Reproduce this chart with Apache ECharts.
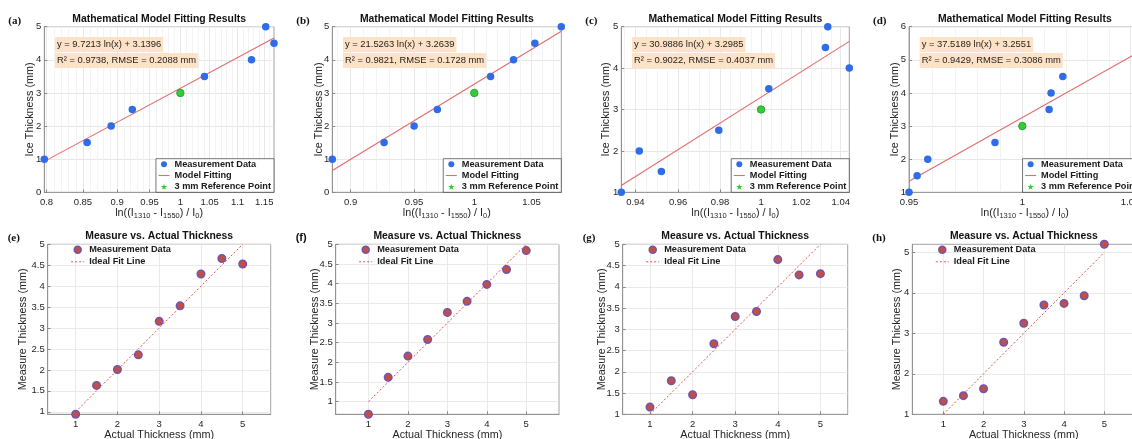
<!DOCTYPE html>
<html>
<head>
<meta charset="utf-8">
<script src="https://cdn.jsdelivr.net/npm/echarts@6/dist/echarts.min.js"></script>
<style>
html, body { margin: 0; padding: 0; background: #fff; }
#chart { width: 1132px; height: 439px; }
</style>
</head>
<body>
<div id="chart"></div>
<script>
var W = 1132, H = 439;
var FONT = '"Liberation Sans", Arial, Helvetica, sans-serif';
var SERIF = '"Liberation Serif", "Times New Roman", serif';

// ---- top row: ice thickness vs ln((I1310 - I1550) / I0) ----
var thickness = [1, 1.5, 2, 2.5, 3, 3.5, 4, 4.5, 5];
var ratioA = [0.797, 0.856, 0.891, 0.923, 1.0, 1.041, 1.126, 1.169, 1.153];
var ratioB = [0.886, 0.926, 0.950, 0.969, 1.0, 1.014, 1.034, 1.053, 1.077];
var ratioC = [0.9335, 0.9521, 0.9418, 0.9794, 1.0, 1.0038, 1.0444, 1.0322, 1.0334];
var ratioD = [0.950, 0.9535, 0.9581, 0.9877, 1.0, 1.0122, 1.0131, 1.0185, 1.055];
var refRatio = [1];
var refThickness = [3];

// fitted model y = a ln(x) + b
var fitA = [9.7213, 3.1396];
var fitB = [21.5263, 3.2639];
var fitC = [30.9886, 3.2985];
var fitD = [37.5189, 3.2551];
var statsA = ['0.9738', '0.2088'];
var statsB = ['0.9821', '0.1728'];
var statsC = ['0.9022', '0.4037'];
var statsD = ['0.9429', '0.3086'];

var xTicksA = [0.8, 0.85, 0.9, 0.95, 1, 1.05, 1.1, 1.15];
var xTicksB = [0.9, 0.95, 1, 1.05];
var xTicksC = [0.94, 0.96, 0.98, 1, 1.02, 1.04];
var xTicksD = [0.95, 1, 1.05];
var yTicksAB = [0, 1, 2, 3, 4, 5];
var yTicksC = [1, 2, 3, 4, 5];
var yTicksD = [1, 2, 3, 4, 5, 6];

// ---- bottom row: measured vs actual thickness ----
var actual = [1, 1.5, 2, 2.5, 3, 3.5, 4, 4.5, 5];
var measE = [0.94, 1.63, 2.01, 2.36, 3.16, 3.53, 4.29, 4.66, 4.53];
var measF = [0.68, 1.62, 2.16, 2.58, 3.27, 3.55, 3.98, 4.36, 4.84];
var measG = [1.17, 1.79, 1.46, 2.66, 3.30, 3.42, 4.64, 4.28, 4.31];
var measH = [1.32, 1.46, 1.63, 2.78, 3.25, 3.70, 3.74, 3.93, 5.20];
var idealX = [1, 5];
var idealY = [1, 5];
var actualTicks = [1, 2, 3, 4, 5];
var measTicks = [1, 1.5, 2, 2.5, 3, 3.5, 4, 4.5, 5];
var measTicksH = [1, 2, 3, 4, 5];

var topPanels = [
    { tag: '(a)', ratio: ratioA, fit: fitA, stats: statsA, xr: [0.797, 1.169], yr: [0, 5], xt: xTicksA, yt: yTicksAB, step: 0.01, box: [44.3, 26.7, 229.7, 165.6], yGap: 9 },
    { tag: '(b)', ratio: ratioB, fit: fitB, stats: statsB, xr: [0.886, 1.077], yr: [0, 5], xt: xTicksB, yt: yTicksAB, step: 0.01, box: [332.3, 26.7, 229, 165.6], yGap: 8 },
    { tag: '(c)', ratio: ratioC, fit: fitC, stats: statsC, xr: [0.9335, 1.0444], yr: [1, 5], xt: xTicksC, yt: yTicksC, step: 0.005, box: [621.3, 26.7, 228, 165.6], yGap: 9.5 },
    { tag: '(d)', ratio: ratioD, fit: fitD, stats: statsD, xr: [0.95, 1.055], yr: [1, 6], xt: xTicksD, yt: yTicksD, step: 0.01, box: [909, 26.7, 231.6, 165.6], yGap: 8 }
];

var bottomPanels = [
    { tag: '(e)', meas: measE, xr: [0.33, 5.67], yr: [0.94, 5], yt: measTicks, box: [47.7, 244.3, 223, 170], yGap: 19, tagFont: SERIF },
    { tag: '(f)', meas: measF, xr: [0.17, 5.83], yr: [0.68, 5], yt: measTicks, box: [335.7, 244.3, 223.3, 170], yGap: 15.5, tagFont: FONT },
    { tag: '(g)', meas: measG, xr: [0.36, 5.64], yr: [1, 5], yt: measTicks, box: [622.7, 244.3, 225, 170], yGap: 15.3, tagFont: SERIF },
    { tag: '(h)', meas: measH, xr: [0.23, 5.77], yr: [1, 5.2], yt: measTicksH, box: [912.3, 244.3, 223, 170], yGap: 9.6, tagFont: SERIF }
];

var STAR = 'path://M50,0 L61.8,35.1 L98.9,35.1 L68.9,56.8 L80.3,91.9 L50,70.2 L19.7,91.9 L31.1,56.8 L1.1,35.1 L38.2,35.1 Z';
var AXIS_COLOR = '#8a8a8a';
var TEXT_COLOR = '#262626';
var BLUE = '#2f6ce5';
var GREEN = '#33cc33';
var FIT_RED = '#e36b6b';
var DOT_FILL = '#c24f46';
var DOT_EDGE = '#6f55b0';

var grids = [], xAxes = [], yAxes = [], series = [], legends = [], graphics = [];

function minorValues(lo, hi, step, majors) {
    var out = [];
    for (var v = Math.ceil(lo / step - 1e-9) * step; v <= hi + 1e-9; v += step) {
        var r = +v.toFixed(4);
        if (majors.every(function (t) { return Math.abs(t - r) > 1e-6; })) out.push(r);
    }
    return out;
}

function addGrid(box) {
    grids.push({
        left: box[0], top: box[1], width: box[2], height: box[3],
        show: true, borderColor: AXIS_COLOR, borderWidth: 0.8,
        containLabel: false, outerBoundsMode: 'none'
    });
    return grids.length - 1;
}

function labelStyle(extra) {
    var s = { fontSize: 9.5, color: TEXT_COLOR, fontFamily: FONT };
    for (var k in extra) s[k] = extra[k];
    return s;
}

var xNameRich = '{m|ln((I}{s|1310}{m| - I}{s|1550}{m|) / I}{s|0}{m|)}';

topPanels.forEach(function (p) {
    var gi = addGrid(p.box);
    var lo = Math.log(p.xr[0]), hi = Math.log(p.xr[1]);
    var logTicks = p.xt.map(Math.log);

    var xi = xAxes.length;
    xAxes.push({
        type: 'value', gridIndex: gi, min: lo, max: hi, position: 'bottom',
        name: xNameRich, nameLocation: 'middle', nameGap: 13.5, nameMoveOverlap: false,
        nameTextStyle: {
            rich: {
                m: { fontSize: 10.8, lineHeight: 14, fontFamily: FONT, color: TEXT_COLOR },
                s: { fontSize: 7.5, lineHeight: 8, verticalAlign: 'bottom', fontFamily: FONT, color: TEXT_COLOR }
            }
        },
        axisLine: { onZero: false, lineStyle: { color: AXIS_COLOR, width: 0.8 } },
        axisTick: { inside: true, length: 3, customValues: logTicks, lineStyle: { color: AXIS_COLOR } },
        axisLabel: labelStyle({
            customValues: logTicks, margin: 5,
            formatter: function (v) { return String(+Math.exp(v).toFixed(3)); }
        }),
        splitLine: { show: true, lineStyle: { color: '#e2e2e2', width: 0.8 } }
    });
    // minor vertical grid lines
    xAxes.push({
        type: 'value', gridIndex: gi, min: lo, max: hi, position: 'top',
        axisLine: { show: false }, axisLabel: { show: false },
        axisTick: { show: false, customValues: minorValues(p.xr[0], p.xr[1], p.step, p.xt).map(Math.log) },
        splitLine: { show: true, lineStyle: { color: '#f0f0f0', width: 0.8 } }
    });

    var yi = yAxes.length;
    yAxes.push({
        type: 'value', gridIndex: gi, min: p.yr[0], max: p.yr[1],
        name: 'Ice Thickness (mm)', nameLocation: 'middle', nameGap: p.yGap, nameRotate: 90, nameMoveOverlap: false,
        nameTextStyle: { fontSize: 10.8, fontFamily: FONT, color: TEXT_COLOR },
        axisLine: { show: true, onZero: false, lineStyle: { color: AXIS_COLOR, width: 0.8 } },
        axisTick: { inside: true, length: 3, customValues: p.yt, lineStyle: { color: AXIS_COLOR } },
        axisLabel: labelStyle({ customValues: p.yt, margin: 3 }),
        splitLine: { show: true, lineStyle: { color: '#e2e2e2', width: 0.8 } }
    });

    series.push({
        type: 'line', name: 'Model Fitting', xAxisIndex: xi, yAxisIndex: yi,
        data: [[lo, p.fit[0] * lo + p.fit[1]], [hi, p.fit[0] * hi + p.fit[1]]],
        symbol: 'none', lineStyle: { color: FIT_RED, width: 1.1 }, itemStyle: { color: FIT_RED },
        silent: true, z: 2
    });
    series.push({
        type: 'scatter', name: 'Measurement Data', xAxisIndex: xi, yAxisIndex: yi,
        data: p.ratio.map(function (r, i) { return [Math.log(r), thickness[i]]; }),
        symbol: 'circle', symbolSize: 7.5, itemStyle: { color: BLUE, opacity: 1 }, z: 3
    });
    series.push({
        type: 'scatter', name: '3 mm Reference Point', xAxisIndex: xi, yAxisIndex: yi,
        data: refRatio.map(function (r, i) { return [Math.log(r), refThickness[i]]; }),
        symbol: 'circle', symbolSize: 7.5,
        itemStyle: { color: GREEN, borderColor: '#1f9a1f', borderWidth: 0.6, opacity: 1 }, z: 4
    });

    legends.push({
        orient: 'vertical', selectedMode: false,
        right: W - (p.box[0] + p.box[2]), bottom: H - (p.box[1] + p.box[3]),
        backgroundColor: '#fff', borderColor: '#3c3c3c', borderWidth: 0.7, borderRadius: 0,
        padding: [1, 3, 1, 2], itemGap: 2.3, itemWidth: 11, itemHeight: 6,
        textStyle: { fontSize: 9.2, fontWeight: 'bold', fontFamily: FONT, color: '#1a1a1a' },
        data: [
            { name: 'Measurement Data', icon: 'circle', itemStyle: { color: BLUE, borderWidth: 0, opacity: 1 } },
            { name: 'Model Fitting', itemStyle: { opacity: 0 }, lineStyle: { color: FIT_RED, width: 1.1 } },
            { name: '3 mm Reference Point', icon: STAR, itemStyle: { color: GREEN, borderWidth: 0, opacity: 1 } }
        ]
    });

    var cx = p.box[0] + p.box[2] / 2;
    graphics.push({
        type: 'text', x: cx, y: 19, silent: true,
        style: { text: 'Mathematical Model Fitting Results', font: 'bold 10.4px ' + FONT, fill: '#111',
                 align: 'center', verticalAlign: 'middle', textAlign: 'center', textVerticalAlign: 'middle' }
    });
    graphics.push({
        type: 'text', x: p.box[0] - 36, y: 21, silent: true,
        style: { text: p.tag, font: 'bold 11px ' + SERIF, fill: '#111',
                 verticalAlign: 'middle', textVerticalAlign: 'middle' }
    });
    graphics.push({
        type: 'text', x: p.box[0] + 10.7, y: 37, silent: true, z: 10,
        style: { text: 'y = ' + p.fit[0].toFixed(4) + ' ln(x) + ' + p.fit[1].toFixed(4),
                 font: '9.4px ' + FONT, fill: '#222', backgroundColor: '#fde2c6', padding: [3, 2, 3, 2] }
    });
    graphics.push({
        type: 'text', x: p.box[0] + 10.7, y: 53, silent: true, z: 10,
        style: { text: 'R\u00b2 = ' + p.stats[0] + ', RMSE = ' + p.stats[1] + ' mm',
                 font: '9.4px ' + FONT, fill: '#222', backgroundColor: '#fde2c6', padding: [3, 2, 3, 2] }
    });
});

bottomPanels.forEach(function (p) {
    var gi = addGrid(p.box);

    var xi = xAxes.length;
    xAxes.push({
        type: 'value', gridIndex: gi, min: p.xr[0], max: p.xr[1],
        name: 'Actual Thickness (mm)', nameLocation: 'middle', nameGap: 15.5, nameMoveOverlap: false,
        nameTextStyle: { fontSize: 10.8, fontFamily: FONT, color: TEXT_COLOR },
        axisLine: { onZero: false, lineStyle: { color: AXIS_COLOR, width: 0.8 } },
        axisTick: { inside: true, length: 3, customValues: actualTicks, lineStyle: { color: AXIS_COLOR } },
        axisLabel: labelStyle({ customValues: actualTicks, margin: 5 }),
        splitLine: { show: true, lineStyle: { color: '#e4e4e4', width: 0.8 } }
    });
    var yi = yAxes.length;
    yAxes.push({
        type: 'value', gridIndex: gi, min: p.yr[0], max: p.yr[1],
        name: 'Measure Thickness (mm)', nameLocation: 'middle', nameGap: p.yGap, nameRotate: 90, nameMoveOverlap: false,
        nameTextStyle: { fontSize: 10.8, fontFamily: FONT, color: TEXT_COLOR },
        axisLine: { show: true, onZero: false, lineStyle: { color: AXIS_COLOR, width: 0.8 } },
        axisTick: { inside: true, length: 3, customValues: p.yt, lineStyle: { color: AXIS_COLOR } },
        axisLabel: labelStyle({ customValues: p.yt, margin: 3 }),
        splitLine: { show: true, lineStyle: { color: '#e4e4e4', width: 0.8 } }
    });

    series.push({
        type: 'line', name: 'Ideal Fit Line', xAxisIndex: xi, yAxisIndex: yi,
        data: idealX.map(function (x, i) { return [x, idealY[i]]; }),
        symbol: 'none', lineStyle: { color: '#e64d4d', width: 1, type: [2, 2] }, itemStyle: { color: '#e64d4d' },
        silent: true, z: 2
    });
    series.push({
        type: 'scatter', name: 'Measurement Data', xAxisIndex: xi, yAxisIndex: yi,
        data: actual.map(function (a, i) { return [a, p.meas[i]]; }),
        symbol: 'circle', symbolSize: 7.5,
        itemStyle: { color: DOT_FILL, borderColor: DOT_EDGE, borderWidth: 1.5, opacity: 1 }, z: 3
    });

    legends.push({
        orient: 'vertical', selectedMode: false,
        left: p.box[0] + 23, top: p.box[1] + 1,
        padding: 0, itemGap: 3, itemWidth: 13, itemHeight: 7,
        textStyle: { fontSize: 9.2, fontWeight: 'bold', fontFamily: FONT, color: '#1a1a1a' },
        data: [
            { name: 'Measurement Data', icon: 'circle', itemStyle: { color: DOT_FILL, borderColor: DOT_EDGE, borderWidth: 1.5, opacity: 1 } },
            { name: 'Ideal Fit Line', itemStyle: { opacity: 0 }, lineStyle: { color: '#e64d4d', width: 1, type: [2, 2] } }
        ]
    });

    var cx = p.box[0] + p.box[2] / 2;
    graphics.push({
        type: 'text', x: cx, y: 235.7, silent: true,
        style: { text: 'Measure vs. Actual Thickness', font: 'bold 10.4px ' + FONT, fill: '#111',
                 align: 'center', verticalAlign: 'middle', textAlign: 'center', textVerticalAlign: 'middle' }
    });
    graphics.push({
        type: 'text', x: p.box[0] - 40, y: 238, silent: true,
        style: { text: p.tag, font: 'bold 11px ' + p.tagFont, fill: '#111',
                 verticalAlign: 'middle', textVerticalAlign: 'middle' }
    });
});

var chart = echarts.init(document.getElementById('chart'));
chart.setOption({
    animation: false,
    backgroundColor: '#fff',
    grid: grids,
    xAxis: xAxes,
    yAxis: yAxes,
    legend: legends,
    series: series,
    graphic: { elements: graphics }
});
</script>
</body>
</html>
